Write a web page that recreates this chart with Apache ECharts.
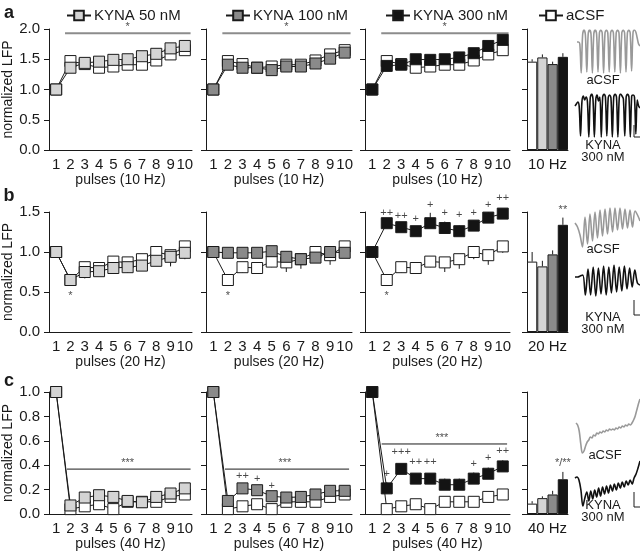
<!DOCTYPE html>
<html>
<head>
<meta charset="utf-8">
<script src="https://cdn.jsdelivr.net/npm/echarts@6/dist/echarts.min.js"></script>
<style>
html, body { margin: 0; padding: 0; background: #fff; }
#chart { width: 640px; height: 552px; }
</style>
</head>
<body>
<div id="chart"></div>
<script>
// categories / labels
const pulses = ['1', '2', '3', '4', '5', '6', '7', '8', '9', '10']
const freqNames = ['pulses (10 Hz)', 'pulses (20 Hz)', 'pulses (40 Hz)']
const barNames = ['10 Hz', '20 Hz', '40 Hz']
const groups = ['aCSF', 'KYNA 50 nM', 'KYNA 100 nM', 'KYNA 300 nM']
const yMax = [2, 1.5, 1]
const yStep = [0.5, 0.5, 0.2]

// normalized LFP, 10 Hz
const aCSF10 = [1, 1.47, 1.42, 1.36, 1.38, 1.41, 1.41, 1.48, 1.58, 1.65]
const k50_10 = [1, 1.36, 1.44, 1.46, 1.49, 1.5, 1.55, 1.59, 1.68, 1.72]
const k100_10 = [1, 1.41, 1.36, 1.36, 1.32, 1.38, 1.38, 1.43, 1.51, 1.61]
const k300_10 = [1, 1.39, 1.41, 1.5, 1.49, 1.5, 1.53, 1.6, 1.72, 1.82]
// 20 Hz
const aCSF20 = [1, 0.65, 0.81, 0.8, 0.88, 0.87, 0.91, 1.0, 0.96, 1.07]
const k50_20 = [1, 0.65, 0.75, 0.76, 0.8, 0.81, 0.83, 0.89, 0.94, 0.99]
const k100_20 = [1, 0.99, 0.99, 0.99, 1.01, 0.94, 0.91, 0.93, 1.0, 0.99]
const k300_20 = [1, 1.36, 1.31, 1.26, 1.36, 1.3, 1.26, 1.33, 1.43, 1.48]
// 40 Hz
const aCSF40 = [1, 0.04, 0.063, 0.08, 0.04, 0.1, 0.1, 0.1, 0.14, 0.16]
const k50_40 = [1, 0.07, 0.135, 0.154, 0.14, 0.107, 0.096, 0.14, 0.168, 0.21]
const k100_40 = [1, 0.107, 0.21, 0.195, 0.146, 0.135, 0.14, 0.16, 0.19, 0.19]
const k300_40 = [1, 0.21, 0.37, 0.29, 0.29, 0.24, 0.24, 0.29, 0.33, 0.39]

// SEM (signed: + drawn up, - drawn down)
const eA10 = [0, -0.04, -0.03, -0.04, -0.04, -0.04, -0.05, -0.06, -0.07, -0.06]
const eK50_10 = [0, 0.03, 0.03, 0.03, 0.03, 0.03, 0.03, 0.03, 0.04, 0.04]
const eK100_10 = [0, 0.03, 0.03, 0.02, 0.02, 0.03, 0.03, 0.03, 0.03, 0.04]
const eK300_10 = [0, 0.03, 0.03, 0.03, 0.03, 0.03, 0.04, 0.04, 0.05, 0.07]
const eA20 = [0, -0.07, -0.07, -0.07, -0.07, -0.12, -0.12, -0.09, -0.12, -0.08]
const eK50_20 = [0, -0.07, -0.08, -0.05, -0.06, -0.07, -0.06, -0.06, -0.12, -0.08]
const eK100_20 = [0, -0.04, -0.03, -0.03, -0.03, -0.03, -0.07, -0.06, -0.04, -0.05]
const eK300_20 = [0, 0.05, 0.05, 0.04, 0.13, 0.08, 0.07, 0.06, 0.07, 0.06]
const eA40 = [0, 0, 0, 0, 0, 0, 0, 0, 0, 0]
const eK50_40 = [0, 0.01, 0.02, 0.03, 0.01, 0.01, 0.01, 0.02, 0.01, 0.02]
const eK100_40 = [0, 0.01, 0.03, 0.03, 0.02, 0.01, 0.01, 0.02, 0.02, 0.03]
const eK300_40 = [0, 0.05, 0.04, 0.04, 0.04, 0.05, 0.05, 0.05, 0.05, 0.05]

// summary bars (aCSF, 50, 100, 300 nM)
const bar10 = [1.46, 1.53, 1.42, 1.54]
const bar20 = [0.88, 0.82, 0.97, 1.34]
const bar40 = [0.085, 0.13, 0.16, 0.285]
const barErr10 = [0.04, 0.05, 0.04, 0.06]
const barErr20 = [0.12, 0.07, 0.05, 0.09]
const barErr40 = [0.02, 0.015, 0.03, 0.06]

// significance: lines [from, to, level], marks [x, level, text]
const sigLines = [
  [[1.62, 10.4, 1.93], [1.62, 10.4, 1.93], [1.62, 10.4, 1.93]],
  [null, null, null],
  [[1.75, 10.4, 0.368], [1.8, 10.3, 0.368], [1.65, 10.3, 0.574]]
]
const sigMarks = [
  [[[6, 2.03, '*']], [[6, 2.03, '*']], [[6, 2.03, '*']]],
  [[[2, 0.45, '*']], [[2, 0.45, '*']],
    [[2, 0.45, '*'], [2, 1.49, '++'], [3, 1.45, '++'], [4, 1.41, '+'], [5, 1.59, '+'], [6, 1.49, '+'],
      [7, 1.46, '+'], [8, 1.49, '+'], [9, 1.59, '+'], [10, 1.67, '++']]],
  [[[6, 0.42, '***']], [[5.9, 0.42, '***'], [3, 0.31, '++'], [4, 0.29, '+'], [5, 0.23, '+']],
    [[5.8, 0.62, '***'], [2, 0.33, '+'], [3, 0.51, '+++'], [4, 0.43, '++'], [5, 0.43, '++'],
      [8, 0.41, '+'], [9, 0.46, '+'], [10, 0.52, '++']]]
]
const barMarks = [null, [3, 1.53, '**'], [3, 0.42, '*/**']]

// example traces (depth below top of trace, px-like units)
const trA_aCSF = [12, 12, 14, 43, 5, 0, 5, 42, 4, 0, 4, 43, 4, 0, 4, 42, 3, 0, 3, 43, 3, 0, 3, 42, 3, 0, 3, 42, 3, 0, 3, 43, 3, 0, 3, 42, 3, 0, 3, 41, 3, 0, 2, 8, 14, 16]
const trA_kyna = [12, 10, 8, 12, 42, 8, 2, 6, 3, 8, 43, 4, 0, 5, 43, 6, 1, 7, 3, 43, 3, 0, 3, 42, 4, 1, 4, 43, 3, 0, 3, 43, 4, 0, 2, 5, 42, 3, 0, 3, 43, 2, 1, 3, 40, 6, 12, 14]
const trB_aCSF = [16, 20, 28, 40, 10, 37, 7, 34, 5, 31, 3, 29, 2, 27, 1, 25, 1, 23, 1, 22, 2, 21, 3, 20, 4, 8, 14]
const trB_kyna = [12, 12, 11, 10, 30, 4, 30, 2, 31, 3, 29, 1, 30, 2, 28, 0, 27, 2, 26, 1, 24, 3, 22, 5, 18, 20]
const trC_aCSF = [27, 29, 35, 48, 57, 55, 50, 46, 44, 41, 42, 39, 40, 37, 38, 36, 37, 35, 36, 34, 35, 33, 34, 33, 34, 32, 33, 31, 32, 30, 31, 29, 30, 28, 29, 27, 24, 20, 14, 8, 3]
const trC_kyna = [20, 19, 22, 32, 48, 40, 34, 43, 33, 41, 32, 39, 30, 38, 29, 36, 28, 35, 27, 33, 26, 32, 25, 30, 24, 29, 23, 27, 22, 26, 20, 16, 10, 3]

const font = 'Liberation Sans, Arial, sans-serif'
const ink = '#1a1a1a'
const fills = ['#ffffff', '#d4d4d4', '#8a8a8a', '#141414']
const rowTop = [29, 212, 392]
const rowH = [121, 120, 122]
const colLeft = [49, 206, 365, 527]
const colW = [143, 146, 145, 41]

const rows = [
  { a: aCSF10, eA: eA10, k: [k50_10, k100_10, k300_10], eK: [eK50_10, eK100_10, eK300_10], bars: bar10, bErr: barErr10 },
  { a: aCSF20, eA: eA20, k: [k50_20, k100_20, k300_20], eK: [eK50_20, eK100_20, eK300_20], bars: bar20, bErr: barErr20 },
  { a: aCSF40, eA: eA40, k: [k50_40, k100_40, k300_40], eK: [eK50_40, eK100_40, eK300_40], bars: bar40, bErr: barErr40 }
]

const grid = []
const xAxis = []
const yAxis = []
const series = []

const errSeries = (xi, yi, vals, errs, z) => ({
  type: 'custom', xAxisIndex: xi, yAxisIndex: yi, z, silent: true,
  data: vals.map((v, i) => [i, v, errs[i]]),
  renderItem: (p, api) => {
    const a = api.coord([api.value(0), api.value(1)])
    const b = api.coord([api.value(0), api.value(1) + api.value(2)])
    return { type: 'line', shape: { x1: a[0], y1: a[1], x2: b[0], y2: b[1] }, style: { stroke: ink, lineWidth: 1 } }
  }
})

const lineSeries = (name, xi, yi, vals, fill, z) => ({
  name, type: 'line', xAxisIndex: xi, yAxisIndex: yi, data: vals, z,
  symbol: 'rect', symbolSize: 11, showSymbol: true, silent: true,
  lineStyle: { color: ink, width: 1 },
  itemStyle: { color: fill, borderColor: ink, borderWidth: 1 }
})

const textSeries = (xi, yi, marks) => ({
  type: 'scatter', xAxisIndex: xi, yAxisIndex: yi, z: 5, silent: true, clip: false,
  symbolSize: 1, itemStyle: { color: 'transparent' },
  data: marks,
  label: {
    show: true, position: 'inside', color: ink, fontFamily: font, fontSize: 11,
    formatter: p => p.data[2]
  }
})

const yAx = (g, r, c) => ({
  gridIndex: g, type: 'value', min: 0, max: yMax[r], interval: yStep[r],
  splitLine: { show: false },
  axisLine: { show: true, lineStyle: { color: ink } },
  axisTick: { show: true, length: 5, lineStyle: { color: ink } },
  axisLabel: { show: c === 0, margin: 9, fontSize: 15, color: ink, fontFamily: font, formatter: v => v.toFixed(1) },
  name: c === 0 ? 'normalized LFP' : '', nameLocation: 'middle', nameGap: 33,
  nameTextStyle: { fontSize: 14, color: ink, fontFamily: font }
})

rows.forEach((row, r) => {
  for (let c = 0; c < 3; c++) {
    const g = grid.length
    grid.push({ left: colLeft[c], top: rowTop[r], width: colW[c], height: rowH[r] })
    const xi = xAxis.length
    xAxis.push({
      gridIndex: g, type: 'category', data: pulses, boundaryGap: true,
      axisLine: { lineStyle: { color: ink } },
      axisTick: { length: 5, lineStyle: { color: ink } },
      axisLabel: { interval: 0, margin: 7, fontSize: 15, color: ink, fontFamily: font },
      name: freqNames[r], nameLocation: 'middle', nameGap: 22,
      nameTextStyle: { fontSize: 14, color: ink, fontFamily: font }
    })
    const xv = xAxis.length
    xAxis.push({ gridIndex: g, type: 'value', min: 0.5, max: 10.5, show: false })
    const yi = yAxis.length
    yAxis.push(yAx(g, r, c))

    series.push(errSeries(xi, yi, row.a, row.eA, 1))
    series.push(lineSeries('aCSF', xi, yi, row.a, fills[0], 2))
    series.push(errSeries(xi, yi, row.k[c], row.eK[c], 3))
    series.push(lineSeries(groups[c + 1], xi, yi, row.k[c], fills[c + 1], 4))

    const sl = sigLines[r][c]
    if (sl) {
      series.push({
        type: 'line', xAxisIndex: xv, yAxisIndex: yi, silent: true, symbol: 'none', z: 1,
        data: [[sl[0], sl[2]], [sl[1], sl[2]]],
        lineStyle: { color: r === 0 ? '#8c8c8c' : ink, width: r === 0 ? 2 : 1 }
      })
    }
    series.push(textSeries(xv, yi, sigMarks[r][c]))
  }

  // summary bars
  const g = grid.length
  grid.push({ left: colLeft[3], top: rowTop[r], width: colW[3], height: rowH[r] })
  const xi = xAxis.length
  xAxis.push({
    gridIndex: g, type: 'category', data: groups,
    axisLine: { lineStyle: { color: ink } }, axisTick: { show: false }, axisLabel: { show: false },
    name: barNames[r], nameLocation: 'middle', nameGap: 7,
    nameTextStyle: { fontSize: 15, color: ink, fontFamily: font, verticalAlign: 'top' }
  })
  const yi = yAxis.length
  yAxis.push(yAx(g, r, 3))
  series.push(errSeries(xi, yi, row.bars, row.bErr, 1))
  series.push({
    type: 'bar', xAxisIndex: xi, yAxisIndex: yi, barCategoryGap: '0%', z: 2, silent: true,
    data: row.bars.map((v, i) => ({ value: v, itemStyle: { color: fills[i] } })),
    itemStyle: { borderColor: ink, borderWidth: 1 }
  })
  if (barMarks[r]) series.push(textSeries(xi, yi, [barMarks[r]]))
})

// example traces
const traces = [
  { d: trA_aCSF, box: [577, 30, 66, 44], col: '#999999' },
  { d: trA_kyna, box: [575, 94, 68, 44], col: '#111111' },
  { d: trB_aCSF, box: [575, 207, 68, 41], col: '#999999' },
  { d: trB_kyna, box: [575, 265, 68, 32], col: '#111111' },
  { d: trC_aCSF, box: [576, 396, 66, 58], col: '#999999' },
  { d: trC_kyna, box: [575, 458, 66, 50], col: '#111111' }
]
traces.forEach(t => {
  const g = grid.length
  grid.push({ left: t.box[0], top: t.box[1], width: t.box[2], height: t.box[3] })
  const xi = xAxis.length
  xAxis.push({ gridIndex: g, type: 'category', boundaryGap: false, data: t.d.map((v, i) => i), show: false })
  const yi = yAxis.length
  yAxis.push({ gridIndex: g, type: 'value', inverse: true, min: 0, max: t.box[3], show: false })
  series.push({
    type: 'line', xAxisIndex: xi, yAxisIndex: yi, data: t.d, symbol: 'none', smooth: 0.35, silent: true,
    lineStyle: { color: t.col, width: 1.6 }
  })
})

const txt = (x, y, s, size, weight) => ({
  type: 'text', x, y,
  style: { text: s, fontSize: size, fontWeight: weight || 'normal', fill: ink, fontFamily: font, align: 'center', verticalAlign: 'middle' }
})
const scaleBar = (x, y1, y2) => ({
  type: 'polyline', shape: { points: [[x, y1], [x, y2], [x + 8, y2]] }, style: { stroke: ink, lineWidth: 1, fill: null }
})

const legendAt = (name, left) => ({
  data: [name], left, top: 3, selectedMode: false, itemWidth: 24, itemHeight: 12, itemGap: 3,
  textStyle: { fontSize: 15, color: ink, fontFamily: font, padding: [0, 0, 0, -2] }
})

const chart = echarts.init(document.getElementById('chart'))
chart.setOption({
  animation: false,
  backgroundColor: '#fff',
  legend: [
    legendAt('KYNA 50 nM', 61),
    legendAt('KYNA 100 nM', 220),
    legendAt('KYNA 300 nM', 380),
    legendAt('aCSF', 533)
  ],
  grid,
  xAxis,
  yAxis,
  series,
  graphic: [
    txt(9, 13, 'a', 18, 'bold'),
    txt(9, 196, 'b', 18, 'bold'),
    txt(9, 381, 'c', 18, 'bold'),
    txt(603, 80, 'aCSF', 13),
    txt(603, 145, 'KYNA', 13),
    txt(603, 157, '300 nM', 13),
    txt(603, 249, 'aCSF', 13),
    txt(603, 317, 'KYNA', 13),
    txt(603, 329, '300 nM', 13),
    txt(605, 455, 'aCSF', 13),
    txt(603, 505, 'KYNA', 13),
    txt(603, 517, '300 nM', 13),
    scaleBar(634, 125, 137),
    scaleBar(634, 300, 315),
    scaleBar(634, 492, 507)
  ]
})
</script>
</body>
</html>
